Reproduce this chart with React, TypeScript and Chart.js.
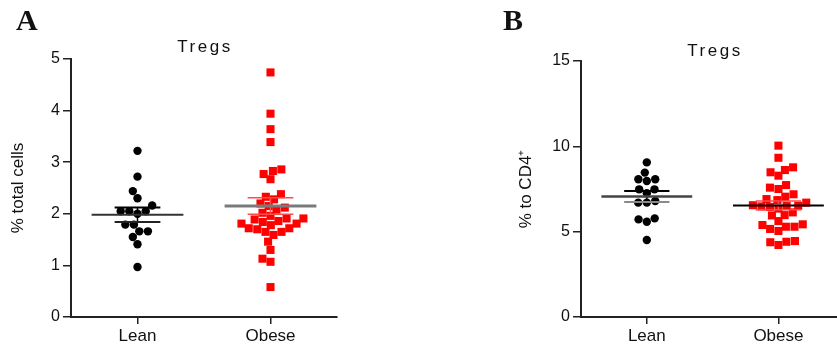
import React, { useEffect, useRef } from "react";
import { Chart, registerables } from "chart.js";

Chart.register(...registerables);

// ---------------- data ----------------
const categories = ["Lean", "Obese"];
const chartTitle = "Tregs";
const yTitleA = "% total cells";
const yTitleB = "% to CD4⁺";
const ticksA = [0, 1, 2, 3, 4, 5];
const ticksB = [0, 5, 10, 15];

const leanA = [3.22, 2.72, 2.44, 2.3, 2.16, 2.05, 2.05, 2.05, 2.0, 1.79, 1.79, 1.66, 1.66, 1.55, 1.41, 0.97];
const obeseA = [
  4.74, 3.94, 3.64, 3.39, 2.86, 2.83, 2.77, 2.67, 2.38, 2.33, 2.28, 2.2, 2.15, 2.12, 2.08, 2.02, 1.96, 1.91,
  1.91, 1.89, 1.86, 1.84, 1.81, 1.81, 1.78, 1.72, 1.72, 1.7, 1.65, 1.65, 1.59, 1.46, 1.3, 1.13, 1.07, 0.58,
];
const meanA = [1.98, 2.15];
const semA = [0.14, 0.16];

const leanB = [9.06, 8.46, 8.07, 7.97, 8.07, 7.48, 7.48, 7.25, 6.8, 6.7, 6.7, 5.72, 5.58, 5.78, 4.51];
const obeseB = [
  10.04, 9.33, 8.77, 8.61, 8.48, 8.28, 7.73, 7.58, 7.5, 7.19, 7.05, 6.91, 6.85, 6.7, 6.55, 6.52, 6.5, 6.48,
  6.45, 6.35, 6.13, 5.97, 5.95, 5.62, 5.43, 5.39, 5.29, 5.29, 5.16, 5.04, 4.45, 4.41, 4.38, 4.22,
];
const meanB = [7.06, 6.54];
const semB = [0.32, 0.25];

// ---------------- helpers ----------------
// beeswarm: returns horizontal offsets (in px) so that markers do not overlap
function swarm(values: number[], yPx: number, d: number): number[] {
  const order = values.map((_, i) => i).sort((a, b) => values[a] - values[b]);
  const placed: { x: number; y: number }[] = [];
  const out = new Array(values.length).fill(0);
  for (const i of order) {
    const y = values[i] * yPx;
    const cands = [0];
    for (const p of placed) {
      const dy = Math.abs(p.y - y);
      if (dy < d) {
        const dx = Math.sqrt(d * d - dy * dy);
        cands.push(p.x + dx, p.x - dx);
      }
    }
    cands.sort((a, b) => Math.abs(a) - Math.abs(b) || a - b);
    let chosen = 0;
    for (const c of cands) {
      if (placed.every((p) => (p.x - c) ** 2 + (p.y - y) ** 2 >= d * d - 1e-6)) {
        chosen = c;
        break;
      }
    }
    placed.push({ x: chosen, y });
    out[i] = chosen;
  }
  return out;
}

function pointsFor(values: number[], center: number, xPx: number, yPx: number) {
  const off = swarm(values, yPx, 8.6);
  return values.map((v, i) => ({ x: center + off[i] / xPx, y: v }));
}

function hLine(cx: number, half: number, y: number, color: string, width: number) {
  return {
    type: "scatter" as const,
    data: [
      { x: cx - half, y },
      { x: cx + half, y },
    ],
    showLine: true,
    borderColor: color,
    borderWidth: width,
    pointRadius: 0,
    fill: false,
    order: 0,
  };
}

function vLine(cx: number, y1: number, y2: number, color: string, width: number) {
  return {
    type: "scatter" as const,
    data: [
      { x: cx, y: y1 },
      { x: cx, y: y2 },
    ],
    showLine: true,
    borderColor: color,
    borderWidth: width,
    pointRadius: 0,
    fill: false,
    order: 0,
  };
}

const panelText = {
  id: "panelText",
  afterDraw(chart: any, _args: any, opts: any) {
    const ctx = chart.ctx as CanvasRenderingContext2D;
    ctx.save();
    ctx.fillStyle = "#111";
    ctx.textBaseline = "alphabetic";
    ctx.textAlign = "left";
    ctx.font = 'bold 30px "Liberation Serif", serif';
    ctx.fillText(opts.letter, opts.letterX, 30);
    ctx.font = '17px "Liberation Sans", Arial, sans-serif';
    (ctx as any).letterSpacing = "2.5px";
    ctx.textAlign = "center";
    ctx.fillText(opts.title, opts.titleX, opts.titleY);
    ctx.restore();
  },
};

const AXIS = "#222";
const FONT = '"Liberation Sans", Arial, sans-serif';

function makeConfig(p: {
  lean: number[];
  obese: number[];
  mean: number[];
  sem: number[];
  ticks: number[];
  yMax: number;
  xMax: number;
  yTitle: string;
  padLeft: number;
  padRight: number;
  padTop: number;
  yWidth: number;
  xPx: number;
  yPx: number;
  letter: string;
  letterX: number;
  titleX: number;
  titleY: number;
  titlePad: number;
  styles: any;
}) {
  const c0 = 0.5;
  const c1 = 1.5;
  const half = 0.345;
  const sHalf = 0.172;
  const s = p.styles;
  const datasets: any[] = [
    hLine(c0, half, p.mean[0], s.leanMean, s.leanMeanW),
    hLine(c0, sHalf, p.mean[0] + p.sem[0], s.leanSemUp, 2),
    hLine(c0, sHalf, p.mean[0] - p.sem[0], s.leanSemLo, 2),
    vLine(c0, p.mean[0] - p.sem[0], p.mean[0] + p.sem[0], s.leanSemUp, 1.5),
    hLine(c1, half, p.mean[1], s.obeseMean, s.obeseMeanW),
    hLine(c1, sHalf, p.mean[1] + p.sem[1], s.obeseSem, 1.5),
    hLine(c1, sHalf, p.mean[1] - p.sem[1], s.obeseSem, 1.5),
    vLine(c1, p.mean[1] - p.sem[1], p.mean[1] + p.sem[1], s.obeseSem, 1.5),
    {
      type: "scatter",
      data: pointsFor(p.lean, c0, p.xPx, p.yPx),
      pointStyle: "circle",
      pointRadius: 4.2,
      backgroundColor: "#000",
      borderWidth: 0,
      order: 5,
    },
    {
      type: "scatter",
      data: pointsFor(p.obese, c1, p.xPx, p.yPx),
      pointStyle: "rect",
      pointRadius: 5.7,
      backgroundColor: "#ff0000",
      borderWidth: 0,
      order: 5,
    },
  ];
  return {
    type: "scatter",
    data: { datasets },
    plugins: [panelText],
    options: {
      animation: false,
      responsive: false,
      devicePixelRatio: 1,
      events: [],
      layout: { autoPadding: false, padding: { left: p.padLeft, right: p.padRight, top: p.padTop, bottom: 0 } },
      plugins: {
        legend: { display: false },
        tooltip: { enabled: false },
        title: { display: false },
        panelText: { letter: p.letter, letterX: p.letterX, title: chartTitle, titleX: p.titleX, titleY: p.titleY },
      },
      scales: {
        x: {
          type: "linear",
          min: 0,
          max: p.xMax,
          afterBuildTicks: (scale: any) => {
            scale.ticks = [{ value: c0 }, { value: c1 }];
          },
          afterFit: (scale: any) => {
            scale.height = 33;
          },
          ticks: {
            callback: (v: number) => (Math.abs(v - c0) < 0.01 ? categories[0] : categories[1]),
            font: { family: FONT, size: 17 },
            color: "#111",
            padding: 2,
            maxRotation: 0,
            autoSkip: false,
          },
          grid: { drawOnChartArea: false, drawTicks: true, tickLength: 7, color: AXIS, lineWidth: 1.5 },
          border: { display: true, color: AXIS, width: 2 },
        },
        y: {
          type: "linear",
          min: 0,
          max: p.yMax,
          afterBuildTicks: (scale: any) => {
            scale.ticks = p.ticks.map((v) => ({ value: v }));
          },
          afterFit: (scale: any) => {
            scale.width = p.yWidth;
          },
          ticks: {
            font: { family: FONT, size: 16 },
            color: "#111",
            padding: 3,
          },
          grid: { drawOnChartArea: false, drawTicks: true, tickLength: 8, color: AXIS, lineWidth: 1.5 },
          border: { display: true, color: AXIS, width: 2 },
          title: {
            display: true,
            text: p.yTitle,
            font: { family: FONT, size: 17 },
            color: "#111",
            padding: { top: p.titlePad, bottom: 0 },
          },
        },
      },
    },
  };
}

export default function App() {
  const refA = useRef<HTMLCanvasElement>(null);
  const refB = useRef<HTMLCanvasElement>(null);

  useEffect(() => {
    const chartA = new Chart(
      refA.current as HTMLCanvasElement,
      makeConfig({
        lean: leanA,
        obese: obeseA,
        mean: meanA,
        sem: semA,
        ticks: ticksA,
        yMax: 5,
        xMax: 2,
        yTitle: yTitleA,
        padLeft: 0,
        padRight: 83,
        padTop: 59,
        yWidth: 71,
        xPx: 133,
        yPx: 51.6,
        letter: "A",
        letterX: 16,
        titleX: 205,
        titleY: 52,
        titlePad: 8,
        styles: {
          leanMean: "#333",
          leanMeanW: 2,
          leanSemUp: "#000",
          leanSemLo: "#222",
          obeseMean: "#7a7a7a",
          obeseMeanW: 3,
          obeseSem: "#ff4a4a",
        },
      }) as any
    );
    const chartB = new Chart(
      refB.current as HTMLCanvasElement,
      makeConfig({
        lean: leanB,
        obese: obeseB,
        mean: meanB,
        sem: semB,
        ticks: ticksB,
        yMax: 15,
        xMax: 1.945,
        yTitle: yTitleB,
        padLeft: 86,
        padRight: 0,
        padTop: 61,
        yWidth: 75,
        xPx: 131.6,
        yPx: 17.07,
        letter: "B",
        letterX: 83,
        titleX: 295,
        titleY: 56,
        titlePad: 10,
        styles: {
          leanMean: "#444",
          leanMeanW: 2.5,
          leanSemUp: "#000",
          leanSemLo: "#8a8a8a",
          obeseMean: "#000",
          obeseMeanW: 2,
          obeseSem: "#ff4a4a",
        },
      }) as any
    );
    return () => {
      chartA.destroy();
      chartB.destroy();
    };
  }, []);

  return (
    <div style={{ position: "absolute", left: 0, top: 0, width: 837, height: 350, background: "#fff" }}>
      <canvas
        ref={refA}
        width={420}
        height={350}
        style={{ position: "absolute", left: 0, top: 0, width: 420, height: 350 }}
      />
      <canvas
        ref={refB}
        width={417}
        height={350}
        style={{ position: "absolute", left: 420, top: 0, width: 417, height: 350 }}
      />
    </div>
  );
}
